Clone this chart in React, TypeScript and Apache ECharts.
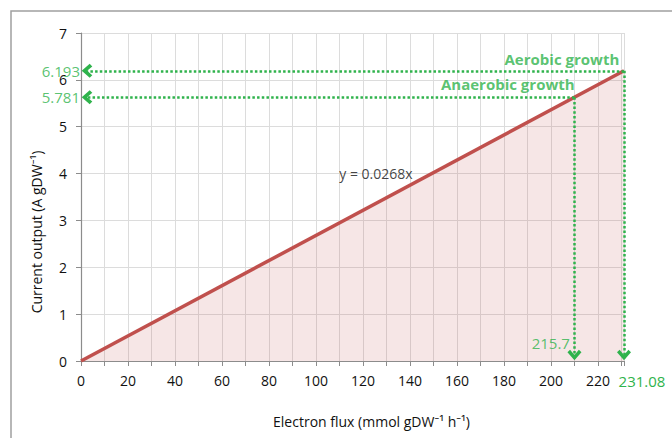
import React, { useEffect, useRef } from "react";
import * as echarts from "echarts";

// ---- data ----
const fitLine: [number, number][] = [
  [0, 0],
  [231.08, 6.193],
];
const aerobicPoint: [number, number] = [231.08, 6.193];
// anaerobic marker as drawn in the figure
const anaerobicPoint: [number, number] = [210, 5.63];
const xMax = 231.08;
const yTicksMax = 7;

const annotations = [
  { text: "Aerobic growth", at: [229.5, 6.44], pos: "left", bold: true, color: "green" },
  { text: "Anaerobic growth", at: [210.5, 5.92], pos: "left", bold: true, color: "green" },
  { text: "215.7", at: [208.5, 0.38], pos: "left", bold: false, color: "green" },
  { text: "6.193", at: [0, 6.193], pos: "left", bold: false, color: "green" },
  { text: "5.781", at: [0, 5.63], pos: "left", bold: false, color: "green" },
  { text: "y = 0.0268x", at: [125.5, 4.0], pos: "inside", bold: false, color: "black" },
];

// arrowheads: [x, y, direction]
const arrowHeads: [number, number, string][] = [
  [0, 6.193, "left"],
  [0, 5.63, "left"],
  [231.08, 0, "down"],
  [210, 0, "down"],
];

const GREEN = "#2fb34c";
const RED = "#c0504d";
const FONT = "'Open Sans', 'Noto Sans', sans-serif";
// chevron with its tip at the top
const CHEVRON = "path://M7,0 L14,8 L11.4,10.6 L7,5.4 L2.6,10.6 L0,8 Z";

export default function App() {
  const ref = useRef<HTMLDivElement>(null);
  useEffect(() => {
    if (!ref.current) return;
    const chart = echarts.init(ref.current, undefined, { renderer: "svg" });
    const dotted = {
      color: GREEN,
      width: 2.5,
      type: [2.5, 2.2] as number[],
    };
    chart.setOption({
      animation: false,
      backgroundColor: "#fff",
      textStyle: { fontFamily: FONT },
      grid: { left: 81, right: 48, top: 33, bottom: 77 },
      graphic: [
        {
          type: "rect",
          shape: { x: 11, y: 11, width: 720, height: 500 },
          style: { fill: "none", stroke: "#a0a0a0", lineWidth: 1.5 },
          silent: true,
        },
      ],
      xAxis: {
        type: "value",
        min: 0,
        max: xMax,
        interval: 10,
        name: "Electron flux (mmol gDW\u207B\u00B9 h\u207B\u00B9)",
        nameLocation: "middle",
        nameGap: 53,
        nameTextStyle: {
          fontSize: 14,
          color: "#111",
          fontFamily: FONT,
          padding: [0, 0, 0, 38],
        },
        axisLine: { lineStyle: { color: "#8c8c8c", width: 1.2 } },
        axisTick: { show: true, length: 5, lineStyle: { color: "#8c8c8c" } },
        splitLine: { show: true, lineStyle: { color: "#dcdcdc", width: 1 } },
        axisLabel: {
          margin: 12,
          fontSize: 14,
          color: "#111",
          fontFamily: FONT,
          showMaxLabel: true,
          formatter: (v: number) => {
            if (Math.abs(v - xMax) < 1e-6) return "{g|" + xMax.toFixed(2) + "}";
            return Math.round(v) % 20 === 0 ? String(Math.round(v)) : "";
          },
          rich: {
            g: {
              color: GREEN,
              fontSize: 15,
              fontFamily: FONT,
              padding: [0, 0, 0, 36],
            },
          },
        },
      },
      yAxis: {
        type: "value",
        min: 0,
        max: yTicksMax,
        interval: 1,
        name: "Current output (A gDW\u207B\u00B9)",
        nameLocation: "middle",
        nameGap: 38,
        nameTextStyle: {
          fontSize: 14,
          color: "#111",
          fontFamily: FONT,
          padding: [0, 70, 0, 0],
        },
        axisLine: { show: true, lineStyle: { color: "#8c8c8c", width: 1.2 } },
        axisTick: { show: true, length: 5, lineStyle: { color: "#8c8c8c" } },
        splitLine: { show: true, lineStyle: { color: "#dcdcdc", width: 1 } },
        axisLabel: { margin: 14, fontSize: 14, color: "#111", fontFamily: FONT },
      },
      series: [
        {
          type: "line",
          data: fitLine,
          showSymbol: false,
          silent: true,
          lineStyle: { color: RED, width: 3.5 },
          itemStyle: { color: RED },
          areaStyle: { color: "rgba(192,80,77,0.2)" },
          z: 2,
        },
        {
          type: "line",
          data: [],
          silent: true,
          z: 3,
          markLine: {
            silent: true,
            symbol: ["none", "none"],
            label: { show: false },
            emphasis: { disabled: true },
            lineStyle: dotted,
            data: [
              [{ coord: aerobicPoint }, { coord: [1.5, aerobicPoint[1]] }],
              [{ coord: anaerobicPoint }, { coord: [1.5, anaerobicPoint[1]] }],
              [{ coord: aerobicPoint }, { coord: [aerobicPoint[0], 0.06] }],
              [{ coord: anaerobicPoint }, { coord: [anaerobicPoint[0], 0.06] }],
            ],
          },
        },
        {
          type: "scatter",
          silent: true,
          z: 4,
          symbol: CHEVRON,
          symbolSize: [14, 10.6],
          itemStyle: { color: GREEN, opacity: 1 },
          data: arrowHeads.map((a) => ({
            value: [a[0], a[1]],
            symbolRotate: a[2] === "left" ? 90 : 180,
            symbolOffset: a[2] === "left" ? [6, 0] : [0, -6],
          })),
        },
        {
          type: "scatter",
          silent: true,
          symbolSize: 0,
          z: 5,
          data: annotations.map((a) => ({
            value: a.at,
            label: {
              show: true,
              position: a.pos,
              distance: 1,
              formatter: a.text,
              fontFamily: FONT,
              fontSize: a.color === "black" ? 14 : 15,
              fontWeight: a.bold ? "bold" : "normal",
              color: a.color === "green" ? GREEN : "#111",
            },
          })),
        },
      ],
    });
    return () => chart.dispose();
  }, []);
  return (
    <div
      ref={ref}
      style={{ width: 672, height: 438, position: "fixed", left: 0, top: 0 }}
    />
  );
}
